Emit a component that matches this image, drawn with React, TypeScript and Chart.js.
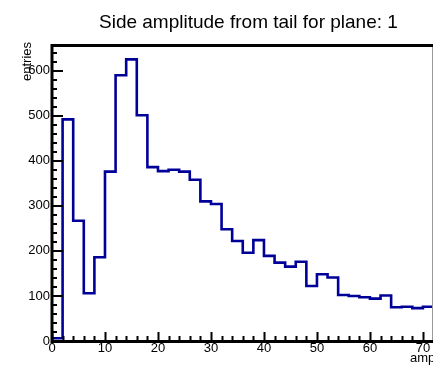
import { useEffect, useRef } from 'react';
import { Chart, registerables } from 'chart.js';

Chart.register(...registerables);

// Histogram binning (2 units per bin) and bin contents
const BIN_WIDTH = 2;
const binLowEdges = [
  0, 2, 4, 6, 8, 10, 12, 14, 16, 18, 20, 22, 24, 26, 28, 30, 32, 34,
  36, 38, 40, 42, 44, 46, 48, 50, 52, 54, 56, 58, 60, 62, 64, 66, 68, 70,
];
const entries = [
  6, 492, 267, 106, 186, 376, 590, 625, 501, 386, 377, 380, 376, 358, 310, 304, 248, 222,
  196, 224, 189, 174, 165, 176, 122, 148, 141, 102, 100, 97, 94, 101, 75, 76, 73, 76,
];

const xTickValues = [0, 10, 20, 30, 40, 50, 60, 70];
const yTickValues = [0, 100, 200, 300, 400, 500, 600];
const X_MIN = 0;
const X_MAX = 71.9;
const Y_MIN = 0;
const Y_MAX = 657;
const X_MINOR_STEP = 2;
const Y_MINOR_STEP = 20;

const titleText = 'Side amplitude from tail for plane: 1';
const xAxisTitle = 'amplitude';
const yAxisTitle = 'entries';

const FONT = '"Liberation Sans", Arial, Helvetica, sans-serif';
const LINE_COLOR = '#000099';

// ROOT-style frame: thick black axes with inward ticks, thin grey right edge
const framePlugin = {
  id: 'rootFrame',
  afterDatasetsDraw(chart: any) {
    const { ctx, chartArea: a, scales } = chart;
    const x = scales.x;
    const y = scales.y;
    ctx.save();

    ctx.strokeStyle = '#9a9a9a';
    ctx.lineWidth = 1;
    ctx.beginPath();
    ctx.moveTo(a.right - 0.5, a.top);
    ctx.lineTo(a.right - 0.5, a.bottom);
    ctx.stroke();

    ctx.strokeStyle = '#000';
    ctx.lineWidth = 3;
    ctx.beginPath();
    ctx.moveTo(a.left - 1.5, a.top + 0.5);
    ctx.lineTo(a.right, a.top + 0.5);
    ctx.moveTo(a.left, a.top - 1);
    ctx.lineTo(a.left, a.bottom + 2);
    ctx.moveTo(a.left - 1.5, a.bottom + 0.5);
    ctx.lineTo(a.right, a.bottom + 0.5);
    ctx.stroke();

    ctx.lineWidth = 2;
    ctx.beginPath();
    for (let v = Y_MIN; v <= Y_MAX; v += Y_MINOR_STEP) {
      const py = Math.round(y.getPixelForValue(v));
      const major = v % 100 === 0;
      ctx.moveTo(a.left, py);
      ctx.lineTo(a.left + (major ? 11 : 5), py);
    }
    for (let v = X_MIN; v <= X_MAX; v += X_MINOR_STEP) {
      const px = Math.round(x.getPixelForValue(v)) + 0.5;
      const major = v % 10 === 0;
      ctx.moveTo(px, a.bottom);
      ctx.lineTo(px, a.bottom - (major ? 9 : 5));
    }
    ctx.stroke();
    ctx.restore();
  },
  afterDraw(chart: any) {
    const { ctx, chartArea: a } = chart;
    ctx.save();
    ctx.fillStyle = '#000';
    ctx.textBaseline = 'alphabetic';

    ctx.font = `19px ${FONT}`;
    ctx.textAlign = 'left';
    ctx.fillText(titleText, 99, 28);

    ctx.font = `13px ${FONT}`;
    ctx.textAlign = 'left';
    ctx.fillText(xAxisTitle, 410, 362);

    ctx.translate(31, a.top - 3);
    ctx.rotate(-Math.PI / 2);
    ctx.textAlign = 'right';
    ctx.fillText(yAxisTitle, 0, 0);
    ctx.restore();
  },
};

export default function App() {
  const canvasRef = useRef<HTMLCanvasElement | null>(null);

  useEffect(() => {
    const canvas = canvasRef.current;
    if (!canvas) return;

    // Outline points at bin edges: each bin's content spans [lo, lo + width)
    const outline = binLowEdges.map((lo, i) => ({ x: lo, y: entries[i] }));
    outline.push({
      x: binLowEdges[binLowEdges.length - 1] + BIN_WIDTH,
      y: entries[entries.length - 1],
    });

    const chart = new Chart(canvas, {
      type: 'line',
      data: {
        datasets: [
          {
            data: outline,
            stepped: 'before',
            borderColor: LINE_COLOR,
            borderWidth: 2.6,
            pointRadius: 0,
            fill: false,
            borderJoinStyle: 'miter',
          },
        ],
      },
      options: {
        animation: false,
        responsive: false,
        devicePixelRatio: 1,
        events: [],
        layout: { padding: { top: 45, right: 0, left: 0, bottom: 0 } },
        plugins: {
          legend: { display: false },
          title: { display: false },
          tooltip: { enabled: false },
        },
        scales: {
          x: {
            type: 'linear',
            min: X_MIN,
            max: X_MAX,
            grid: { display: false, drawTicks: false },
            border: { display: false },
            afterBuildTicks: (s: any) => {
              s.ticks = xTickValues.map((v) => ({ value: v }));
            },
            afterFit: (s: any) => {
              s.height = 25;
            },
            ticks: {
              autoSkip: false,
              maxRotation: 0,
              padding: 0,
              color: '#000',
              font: { family: FONT, size: 13 },
            },
          },
          y: {
            type: 'linear',
            min: Y_MIN,
            max: Y_MAX,
            grid: { display: false, drawTicks: false },
            border: { display: false },
            afterBuildTicks: (s: any) => {
              s.ticks = yTickValues.map((v) => ({ value: v }));
            },
            afterFit: (s: any) => {
              s.width = 52;
            },
            ticks: {
              autoSkip: false,
              padding: 2,
              color: '#000',
              font: { family: FONT, size: 13 },
            },
          },
        },
      },
      plugins: [framePlugin],
    });

    return () => chart.destroy();
  }, []);

  return (
    <div
      style={{
        position: 'fixed',
        left: 0,
        top: 0,
        width: 433,
        height: 366,
        background: '#fff',
        overflow: 'hidden',
      }}
    >
      <canvas ref={canvasRef} width={433} height={366} style={{ display: 'block' }} />
    </div>
  );
}
